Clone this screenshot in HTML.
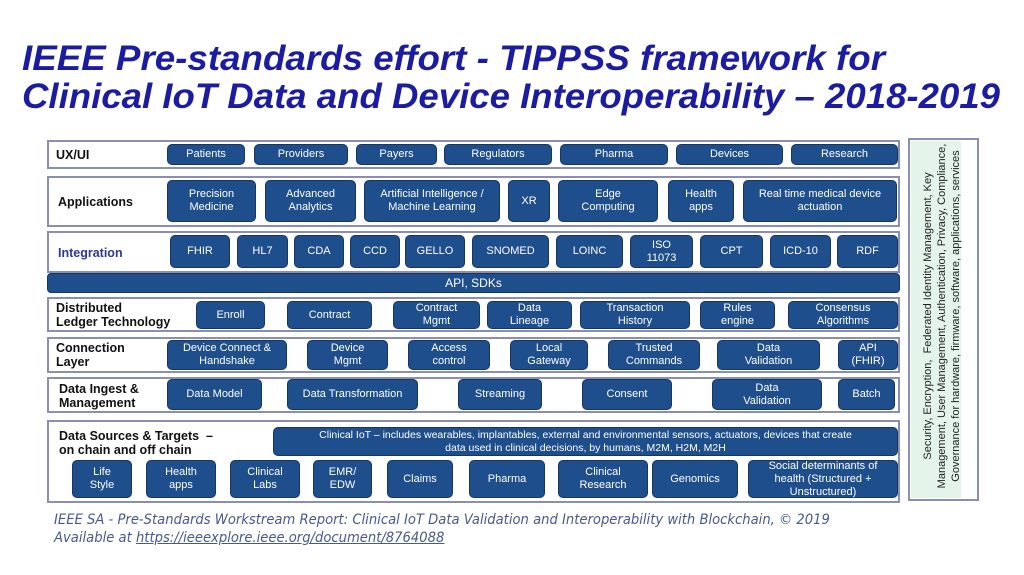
<!DOCTYPE html>
<html><head><meta charset="utf-8"><style>
body{margin:0;width:1024px;height:575px;background:#fff;position:relative;overflow:hidden;font-family:"Liberation Sans",Arial,sans-serif}
.row{position:absolute;left:47px;width:853px;border:2px solid #8a8fb0;box-sizing:border-box;background:#fff}
.lbl{position:absolute;font-weight:bold;font-size:12.5px;color:#111;line-height:14px}
.b{position:absolute;background:#1f4e8c;color:#fff;border-radius:5px;display:flex;align-items:center;justify-content:center;text-align:center;font-size:11px;line-height:13px;border:1px solid #17365f;box-sizing:border-box}
</style></head><body>
<svg style="position:absolute;left:0;top:0" width="1024" height="130">
<text x="22" y="70" font-family="Liberation Sans" font-weight="bold" font-style="italic" font-size="35" fill="#1c1ca0" textLength="863" lengthAdjust="spacingAndGlyphs">IEEE Pre-standards effort - TIPPSS framework for</text>
<text x="22" y="108" font-family="Liberation Sans" font-weight="bold" font-style="italic" font-size="35" fill="#1c1ca0" textLength="978" lengthAdjust="spacingAndGlyphs">Clinical IoT Data and Device Interoperability – 2018-2019</text>
</svg>

<div class="row" style="top:140px;height:29px"></div>
<div class="lbl" style="left:56px;top:148px">UX/UI</div>
<div class="b" style="left:167px;top:144px;width:78px;height:21px">Patients</div>
<div class="b" style="left:254px;top:144px;width:94px;height:21px">Providers</div>
<div class="b" style="left:356px;top:144px;width:81px;height:21px">Payers</div>
<div class="b" style="left:444px;top:144px;width:108px;height:21px">Regulators</div>
<div class="b" style="left:560px;top:144px;width:108px;height:21px">Pharma</div>
<div class="b" style="left:676px;top:144px;width:107px;height:21px">Devices</div>
<div class="b" style="left:791px;top:144px;width:107px;height:21px">Research</div>

<div class="row" style="top:176px;height:51px"></div>
<div class="lbl" style="left:58px;top:195px">Applications</div>
<div class="b" style="left:167px;top:180px;width:89px;height:42px">Precision<br>Medicine</div>
<div class="b" style="left:265px;top:180px;width:91px;height:42px">Advanced<br>Analytics</div>
<div class="b" style="left:364px;top:180px;width:136px;height:42px">Artificial Intelligence /<br>Machine Learning</div>
<div class="b" style="left:508px;top:180px;width:42px;height:42px">XR</div>
<div class="b" style="left:558px;top:180px;width:100px;height:42px">Edge<br>Computing</div>
<div class="b" style="left:668px;top:180px;width:66px;height:42px">Health<br>apps</div>
<div class="b" style="left:743px;top:180px;width:154px;height:42px">Real time medical device<br>actuation</div>

<div class="row" style="top:231px;height:42px"></div>
<div class="lbl" style="left:58px;top:246px;color:#2c3a8c">Integration</div>
<div class="b" style="left:170px;top:235px;width:60px;height:33px">FHIR</div>
<div class="b" style="left:237px;top:235px;width:51px;height:33px">HL7</div>
<div class="b" style="left:294px;top:235px;width:50px;height:33px">CDA</div>
<div class="b" style="left:350px;top:235px;width:50px;height:33px">CCD</div>
<div class="b" style="left:405px;top:235px;width:60px;height:33px">GELLO</div>
<div class="b" style="left:472px;top:235px;width:77px;height:33px">SNOMED</div>
<div class="b" style="left:556px;top:235px;width:67px;height:33px">LOINC</div>
<div class="b" style="left:630px;top:235px;width:63px;height:33px">ISO<br>11073</div>
<div class="b" style="left:700px;top:235px;width:63px;height:33px">CPT</div>
<div class="b" style="left:770px;top:235px;width:61px;height:33px">ICD-10</div>
<div class="b" style="left:837px;top:235px;width:61px;height:33px">RDF</div>

<div class="b" style="left:47px;top:273px;width:853px;height:20px;border-radius:4px;font-size:12px">API, SDKs</div>

<div class="row" style="top:297px;height:35px"></div>
<div class="lbl" style="left:56px;top:301px">Distributed<br>Ledger Technology</div>
<div class="b" style="left:196px;top:301px;width:69px;height:28px">Enroll</div>
<div class="b" style="left:287px;top:301px;width:85px;height:28px">Contract</div>
<div class="b" style="left:393px;top:301px;width:87px;height:28px">Contract<br>Mgmt</div>
<div class="b" style="left:487px;top:301px;width:85px;height:28px">Data<br>Lineage</div>
<div class="b" style="left:580px;top:301px;width:110px;height:28px">Transaction<br>History</div>
<div class="b" style="left:700px;top:301px;width:75px;height:28px">Rules<br>engine</div>
<div class="b" style="left:788px;top:301px;width:110px;height:28px">Consensus<br>Algorithms</div>

<div class="row" style="top:337px;height:36px"></div>
<div class="lbl" style="left:56px;top:341px">Connection<br>Layer</div>
<div class="b" style="left:167px;top:340px;width:120px;height:30px">Device Connect &amp;<br>Handshake</div>
<div class="b" style="left:307px;top:340px;width:81px;height:30px">Device<br>Mgmt</div>
<div class="b" style="left:408px;top:340px;width:82px;height:30px">Access<br>control</div>
<div class="b" style="left:510px;top:340px;width:78px;height:30px">Local<br>Gateway</div>
<div class="b" style="left:608px;top:340px;width:92px;height:30px">Trusted<br>Commands</div>
<div class="b" style="left:717px;top:340px;width:103px;height:30px">Data<br>Validation</div>
<div class="b" style="left:838px;top:340px;width:60px;height:30px">API<br>(FHIR)</div>

<div class="row" style="top:377px;height:36px"></div>
<div class="lbl" style="left:59px;top:382px">Data Ingest &amp;<br>Management</div>
<div class="b" style="left:167px;top:379px;width:95px;height:31px">Data Model</div>
<div class="b" style="left:287px;top:379px;width:131px;height:31px">Data Transformation</div>
<div class="b" style="left:458px;top:379px;width:84px;height:31px">Streaming</div>
<div class="b" style="left:582px;top:379px;width:90px;height:31px">Consent</div>
<div class="b" style="left:712px;top:379px;width:110px;height:31px">Data<br>Validation</div>
<div class="b" style="left:838px;top:379px;width:57px;height:31px">Batch</div>

<div class="row" style="top:420px;height:83px"></div>
<div class="lbl" style="left:59px;top:429px">Data Sources &amp; Targets &nbsp;–<br>on chain and off chain</div>
<div class="b" style="left:273px;top:427px;width:625px;height:29px;font-size:10.5px">Clinical IoT – includes wearables, implantables, external and environmental sensors, actuators, devices that create<br>data used in clinical decisions, by humans, M2M, H2M, M2H</div>
<div class="b" style="left:72px;top:460px;width:60px;height:38px">Life<br>Style</div>
<div class="b" style="left:146px;top:460px;width:70px;height:38px">Health<br>apps</div>
<div class="b" style="left:230px;top:460px;width:70px;height:38px">Clinical<br>Labs</div>
<div class="b" style="left:313px;top:460px;width:59px;height:38px">EMR/<br>EDW</div>
<div class="b" style="left:387px;top:460px;width:66px;height:38px">Claims</div>
<div class="b" style="left:469px;top:460px;width:76px;height:38px">Pharma</div>
<div class="b" style="left:558px;top:460px;width:90px;height:38px">Clinical<br>Research</div>
<div class="b" style="left:652px;top:460px;width:86px;height:38px">Genomics</div>
<div class="b" style="left:748px;top:460px;width:150px;height:38px">Social determinants of<br>health (Structured +<br>Unstructured)</div>

<div style="position:absolute;left:908px;top:138px;width:71px;height:363px;border:2px solid #8a8fb0;box-sizing:border-box;background:#fff"></div>
<div style="position:absolute;left:911px;top:141px;width:50px;height:357px;background:#e4f4ea"></div>
<div style="position:absolute;left:942px;top:316px;width:0;height:0">
<div style="position:absolute;width:360px;left:-180px;top:-21px;transform:rotate(-90deg);text-align:center;font-size:11px;line-height:14px;color:#222;white-space:nowrap">Security, Encryption,&nbsp; Federated Identity Management, Key<br>Management, User Management, Authentication, Privacy, Compliance,<br>Governance for hardware, firmware, software, applications, services</div>
</div>

<div style="position:absolute;left:54px;top:511px;font-style:italic;font-size:14px;color:#4a5890;line-height:18px;font-family:'DejaVu Sans',sans-serif;transform:scaleX(0.94);transform-origin:left">IEEE SA - Pre-Standards Workstream Report: Clinical IoT Data Validation and Interoperability with Blockchain, © 2019<br>Available at <span style="text-decoration:underline">https://ieeexplore.ieee.org/document/8764088</span></div>
</body></html>
